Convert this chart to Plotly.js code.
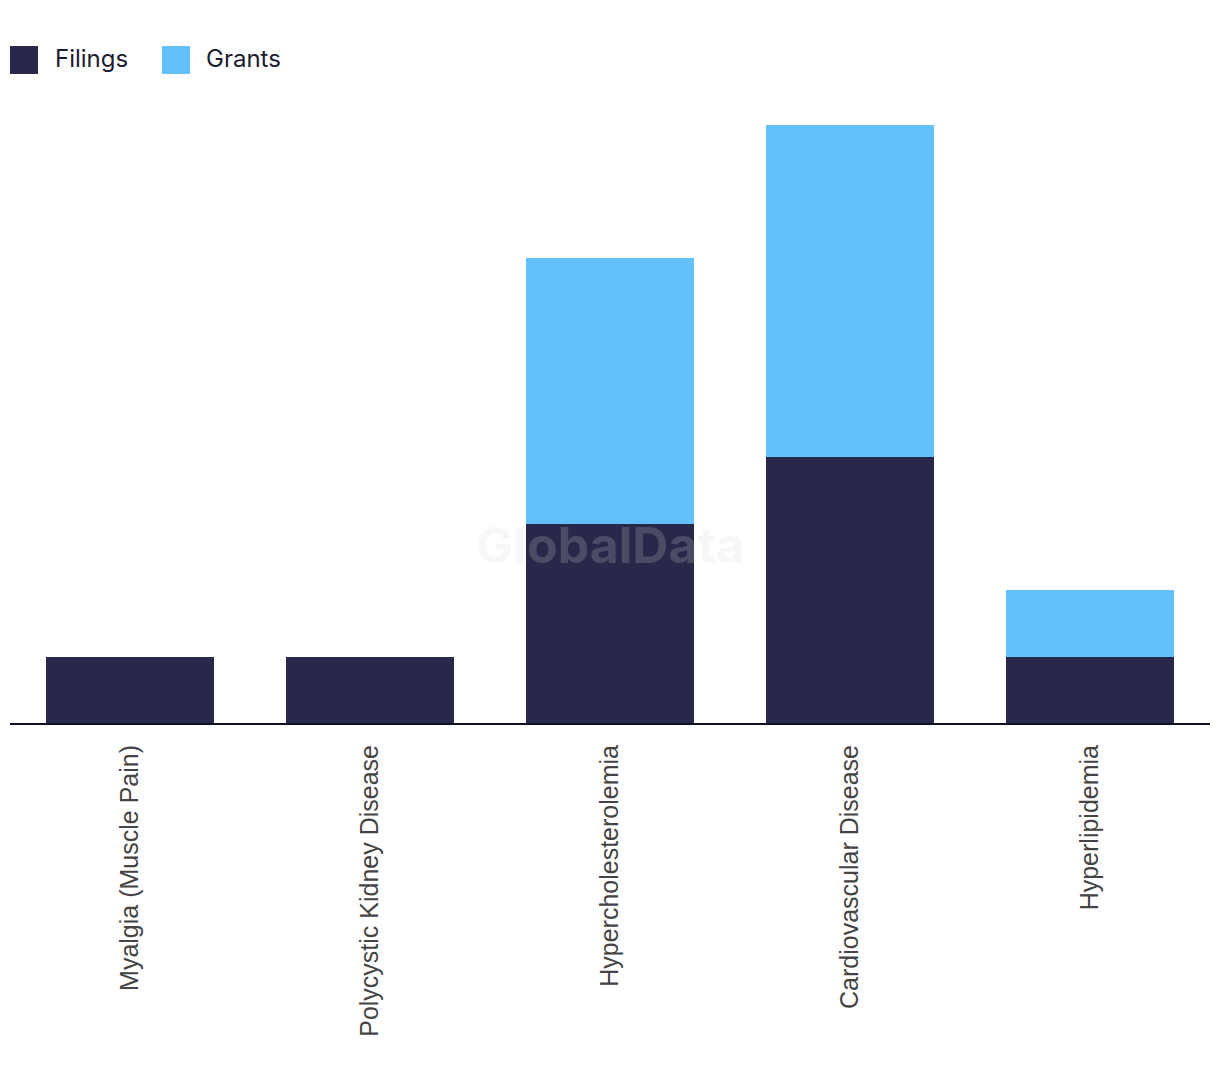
<!DOCTYPE html>
<html>
<head>
<meta charset="utf-8">
<script src="https://cdn.plot.ly/plotly-3.0.1.min.js"></script>
<style>html,body{margin:0;padding:0;background:#fff;}#chart{width:1220px;height:1088px;}</style>
</head>
<body>
<div id="chart"></div>
<script>
const categories = ["Myalgia (Muscle Pain)", "Polycystic Kidney Disease", "Hypercholesterolemia", "Cardiovascular Disease", "Hyperlipidemia"];
const filings = [1, 1, 3, 4, 1];
const grants = [0, 0, 4, 5, 1];
const seriesNames = ["Filings", "Grants"];
const colors = ["#28284a", "#62c0fa"];

const FONT = "Inter, 'Open Sans', sans-serif";
const TICKFONT = "'Liberation Sans', Arial, sans-serif";

const data = [
  {type: "bar", name: seriesNames[0], x: categories, y: filings, marker: {color: colors[0]}, showlegend: false, hoverinfo: "none"},
  {type: "bar", name: seriesNames[1], x: categories, y: grants, marker: {color: colors[1]}, showlegend: false, hoverinfo: "none"}
];

const layout = {
  width: 1220, height: 1088,
  margin: {l: 10, r: 10, t: 92, b: 365},
  barmode: "stack",
  bargap: 0.3,
  paper_bgcolor: "#fff",
  plot_bgcolor: "#fff",
  font: {family: FONT, color: "#333"},
  xaxis: {
    showline: true, linecolor: "#0f0f23", linewidth: 2,
    ticks: "", tickangle: -90, ticklabelstandoff: 10,
    tickfont: {size: 25, color: "#444", family: TICKFONT},
    showgrid: false, zeroline: false, fixedrange: true
  },
  yaxis: {
    range: [0, 9.5], visible: false, showgrid: false, zeroline: false, fixedrange: true
  },
  shapes: [
    {type: "rect", xref: "paper", yref: "paper", x0: 0, x1: 28/1200, y0: 1 + (92-74)/631, y1: 1 + (92-46)/631, fillcolor: colors[0], line: {width: 0}},
    {type: "rect", xref: "paper", yref: "paper", x0: 152/1200, x1: 180/1200, y0: 1 + (92-74)/631, y1: 1 + (92-46)/631, fillcolor: colors[1], line: {width: 0}}
  ],
  annotations: [
    {xref: "paper", yref: "paper", x: 43/1200, y: 1 + (92-59)/631, xanchor: "left", yanchor: "middle", text: seriesNames[0], showarrow: false, font: {size: 24, color: "#1c1c30", family: FONT}},
    {xref: "paper", yref: "paper", x: 194/1200, y: 1 + (92-59)/631, xanchor: "left", yanchor: "middle", text: seriesNames[1], showarrow: false, font: {size: 24, color: "#1c1c30", family: FONT}},
    {xref: "paper", yref: "paper", x: 0.5, y: (723-545)/631, xanchor: "center", yanchor: "middle", text: "<b>GlobalData</b>", showarrow: false, font: {size: 50, color: "rgba(215,215,215,0.2)", family: FONT}}
  ]
};

Plotly.newPlot("chart", data, layout, {displayModeBar: false, staticPlot: true});
</script>
</body>
</html>
